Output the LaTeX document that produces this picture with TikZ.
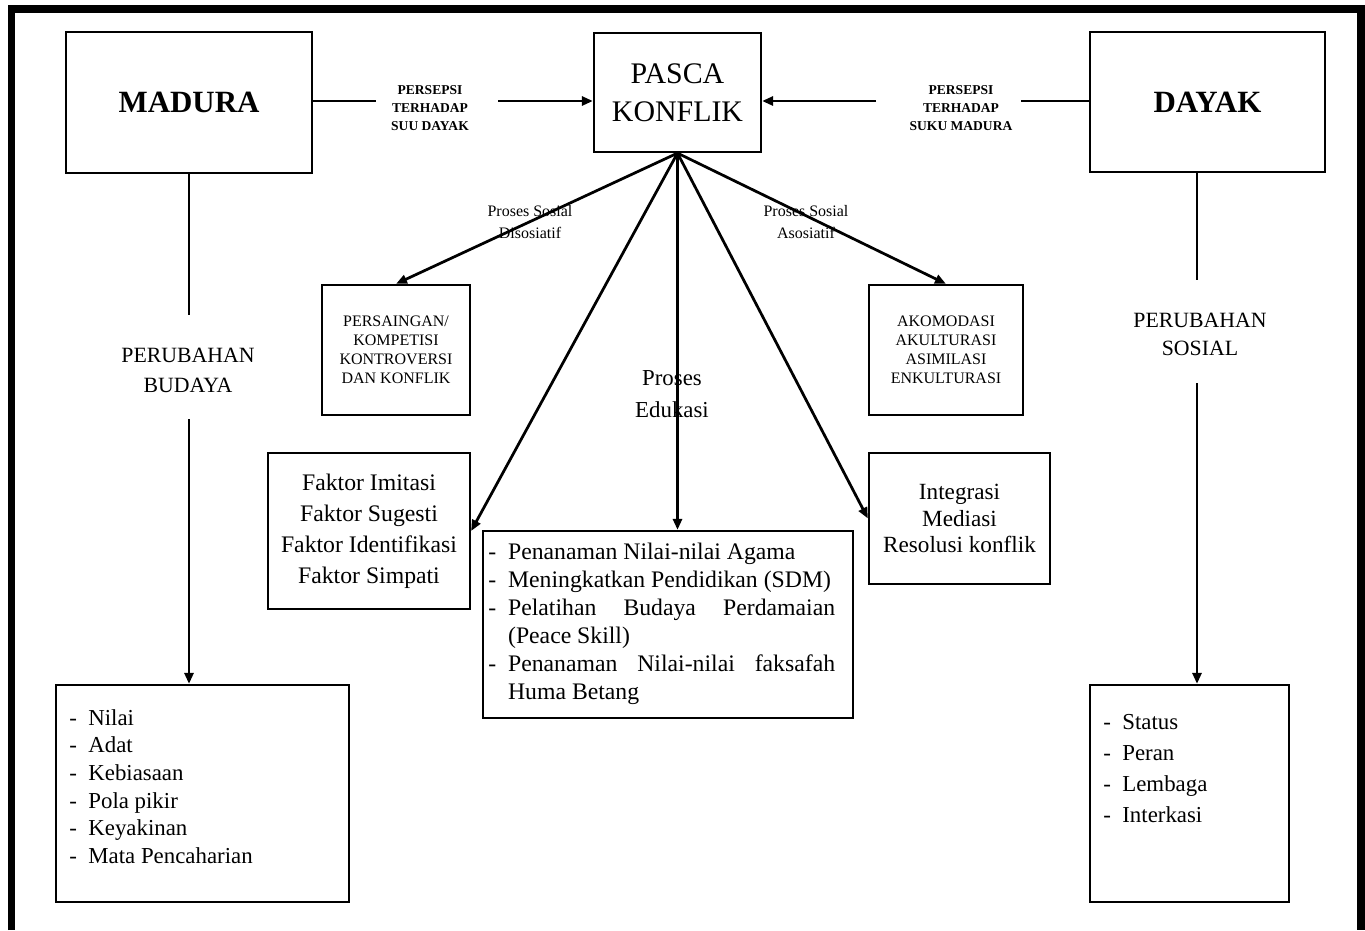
\documentclass[tikz,border=0pt]{standalone}
\usepackage{fontspec}
\setmainfont{Liberation Serif}
\usetikzlibrary{arrows.meta}
\newcommand{\setfs}[2]{\fontsize{#1pt}{#2pt}\selectfont}

\begin{document}
\begin{tikzpicture}[x=0.2mm, y=-0.2mm,
    box/.style={draw, line width=0.45mm, align=center, inner sep=0pt},
    link/.style={line width=0.55mm},
    arr/.style={link, -{Triangle[length=2.2mm, width=1.8mm]}}]
  \useasboundingbox (0,0) rectangle (1365,930);
  % Frame
  \draw[line width=1.5mm] (11.5,930) -- (11.5,9) -- (1361,9) -- (1361,930);
  % Top boxes
  \node[box, minimum width=49.2mm, minimum height=28.2mm, font=\setfs{17.6}{20}\bfseries] (madura) at (189,102.5) {MADURA};
  \node[box, minimum width=33.4mm, minimum height=23.8mm, font=\setfs{17}{21.5}] (pasca) at (677.5,92.5) {PASCA\\KONFLIK};
  \node[box, minimum width=47mm, minimum height=28mm, font=\setfs{17.6}{20}\bfseries] (dayak) at (1207.5,102) {DAYAK};
  % Persepsi
  \node[font=\setfs{7.7}{10.2}\bfseries, align=center] (persL) at (430,108) {PERSEPSI\\TERHADAP\\SUU DAYAK};
  \node[font=\setfs{7.7}{10.2}\bfseries, align=center] (persR) at (961,108) {PERSEPSI\\TERHADAP\\SUKU MADURA};
  \coordinate (pl1) at (376,101);
  \coordinate (pl2) at (498,101);
  \coordinate (pr1) at (876,101);
  \coordinate (pr2) at (1021,101);
  \draw[link] (madura.east |- pl1) -- (pl1);
  \draw[arr] (pl2) -- (pasca.west |- pl2);
  \draw[arr] (pr1) -- (pasca.east |- pr1);
  \draw[link] (dayak.west |- pr2) -- (pr2);
  % Proses sosial
  \node[box, minimum width=29.6mm, minimum height=26mm, font=\setfs{9.1}{10.8}] (saing) at (396,350) {PERSAINGAN/\\KOMPETISI\\KONTROVERSI\\DAN KONFLIK};
  \node[box, minimum width=30.8mm, minimum height=26mm, font=\setfs{9.1}{10.8}] (akom) at (946,350) {AKOMODASI\\AKULTURASI\\ASIMILASI\\ENKULTURASI};
  \node[font=\setfs{9.1}{12}, align=center] (diso) at (530,222) {Proses Sosial\\Disosiatif};
  \node[font=\setfs{9.1}{12}, align=center] (aso) at (806,222) {Proses Sosial\\Asosiatif};
  % Edukasi
  \node[font=\setfs{13}{18}, align=center] (eduk) at (672,394) {Proses\\Edukasi};
  \node[box, minimum width=40.4mm, minimum height=31.2mm, font=\setfs{13.5}{17.6}] (faktor) at (369,531) {Faktor Imitasi\\Faktor Sugesti\\Faktor Identifikasi\\Faktor Simpati};
  \node[box, minimum width=36.2mm, minimum height=26.2mm, font=\setfs{13.2}{15.3}] (integ) at (959.5,518.5) {Integrasi\\Mediasi\\Resolusi konflik};
  \node[box, minimum width=74mm, minimum height=37.4mm] (edu) at (668,624.5) {};
  \node[anchor=north west, inner sep=0pt, font=\setfs{13.5}{15.9}] (edutxt) at (488,540) {%
    \begin{tabular}{@{}l@{\enspace}l@{}}
      - & Penanaman Nilai-nilai Agama\\
      - & Meningkatkan Pendidikan (SDM)\\
      - & \makebox[65.4mm][s]{Pelatihan Budaya Perdamaian}\\
        & (Peace Skill)\\
      - & \makebox[65.4mm][s]{Penanaman Nilai-nilai faksafah}\\
        & Huma Betang
    \end{tabular}};
  % Perubahan
  \node[font=\setfs{12.4}{17}, align=center] (pbud) at (188,370) {PERUBAHAN\\BUDAYA};
  \node[font=\setfs{12.4}{15.9}, align=center] (psos) at (1200,334) {PERUBAHAN\\SOSIAL};
  \node[box, minimum width=58.6mm, minimum height=43.4mm] (adat) at (202.5,793.5) {};
  \node[anchor=north west, inner sep=0pt, font=\setfs{13}{15.7}] (adattxt) at (69,705.6) {%
    \begin{tabular}{@{}l@{\enspace}l@{}}
      - & Nilai\\
      - & Adat\\
      - & Kebiasaan\\
      - & Pola pikir\\
      - & Keyakinan\\
      - & Mata Pencaharian
    \end{tabular}};
  \node[box, minimum width=39.8mm, minimum height=43.4mm] (peran) at (1189.5,793.5) {};
  \node[anchor=north west, inner sep=0pt, font=\setfs{13}{17.6}] (perantxt) at (1103,707.3) {%
    \begin{tabular}{@{}l@{\enspace}l@{}}
      - & Status\\
      - & Peran\\
      - & Lembaga\\
      - & Interkasi
    \end{tabular}};
  % Connectors
  \draw[arr] (pasca.south) -- (saing.north);
  \draw[arr] (pasca.south) -- (faktor.east);
  \draw[arr] (pasca.south) -- (pasca.south |- edu.north);
  \draw[arr] (pasca.south) -- (integ.west);
  \draw[arr] (pasca.south) -- (akom.north);
  \coordinate (mb1) at (189,315);
  \coordinate (mb2) at (189,419);
  \coordinate (ds1) at (1197,280);
  \coordinate (ds2) at (1197,383);
  \draw[link] (madura.south) -- (mb1);
  \draw[arr] (mb2) -- (mb2 |- adat.north);
  \draw[link] (ds1 |- dayak.south) -- (ds1);
  \draw[arr] (ds2) -- (ds2 |- peran.north);
\end{tikzpicture}
\end{document}
